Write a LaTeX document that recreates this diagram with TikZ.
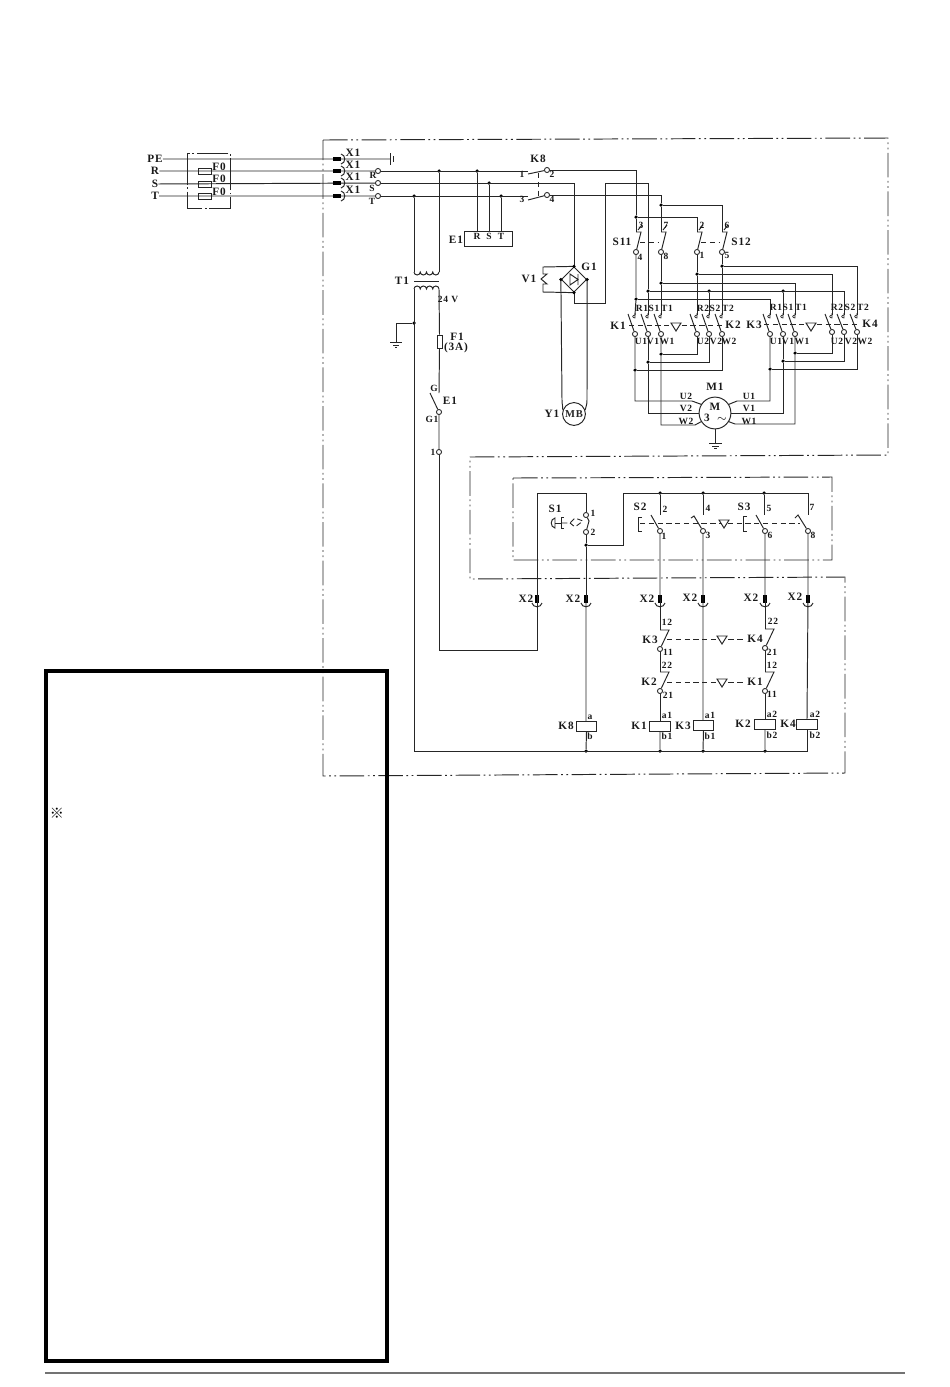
\documentclass[tikz,border=0pt]{standalone}
\usepackage{fontspec}
\setmainfont{Liberation Serif}[LetterSpace=8]
\newfontfamily\cjk{Noto Sans CJK SC}
\usetikzlibrary{positioning,shapes.geometric}
\tikzset{
wire/.style={line width=0.55pt,black!85},
frame/.style={line width=0.55pt,black!85,dash pattern=on 14pt off 2pt on 1pt off 2pt on 1pt off 2pt},
mech/.style={line width=0.5pt,black!85,dash pattern=on 3pt off 2pt},
big/.style={font=\bfseries\fontsize{6.4}{7}\selectfont,inner sep=0pt,black!90},
sml/.style={font=\bfseries\fontsize{5.4}{6}\selectfont,inner sep=0pt,black!90},
term/.style={circle,draw,line width=0.5pt,black!85,fill=white,inner sep=0pt,minimum size=2.9pt},
junc/.style={circle,fill,black,inner sep=0pt,minimum size=2pt},
box/.style={rectangle,draw,line width=0.5pt,black!85,inner sep=0pt},
coil/.style={box,fill=white,minimum width=11.6pt,minimum height=5.7pt},
fuse/.style={box,minimum width=7.4pt,minimum height=3.4pt}
}
\begin{document}
\begin{tikzpicture}[x=0.02cm,y=-0.02cm]
\useasboundingbox (0,0) rectangle (950,1387);
\draw[frame] (323,140) -- (888,138) -- (888,455) -- (470,457) -- (470,579) -- (845,577) -- (845,773) -- (323,776) -- cycle;
\draw[frame] (513,478) -- (832,477) -- (832,560) -- (513,560) -- cycle;
\draw[frame,dash pattern=on 18pt off 1.5pt on 1pt off 1.5pt] (187,153) rectangle (230,208);
\draw[line width=2pt] (46,671) rectangle (387,1361);
\draw[line width=1pt,black!55] (45,1373) -- (905,1373);
\node[font=\fontsize{8}{9}\selectfont,inner sep=0pt] (note) at (57,813) {\cjk ※};
% supply
\node[big] (lPE) at (155,159) {PE};
\node[big] (lR) at (155,171) {R};
\node[big] (lS) at (155,184) {S};
\node[big] (lT) at (155,196) {T};
\node[term] (tR) at (378,171) {};
\node[term] (tS) at (378,183) {};
\node[term] (tT) at (378,196) {};
\coordinate (gPE) at (390,159);
\draw[wire] (lPE) -- (gPE) (lR) -- (tR) (lS) -- (tS) (lT) -- (tT);
\draw[wire] (390,153) -- (390,165) (393,156) -- (393,162);
\foreach \n/\y in {fa/171,fb/184,fc/196}
  \node[fuse] (\n) at (205,\y) {};
\foreach \y in {159,171,183,196}{
  \draw[line width=2.4pt] (333,\y) -- (341,\y);
  \draw[wire] (341,{\y-5}) .. controls (346,{\y-4}) and (346,{\y+4}) .. (341,{\y+5});
}
\node[junc] (jRa) at (439,171) {};
\node[junc] (jRb) at (477,171) {};
\node[junc] (jSb) at (489,183) {};
\node[junc] (jTa) at (414,196) {};
\node[junc] (jTb) at (501,196) {};
\node[box,minimum width=27.8pt,minimum height=9pt] (e1) at (488.5,239) {};
\coordinate (kl1) at (528,171);
\coordinate (kl2) at (528,196);
\node[term] (k8a) at (547,170) {};
\node[term] (k8b) at (547,195) {};
\draw[wire] (tR) -- (kl1) (tT) -- (kl2);
\draw[wire] (528,174) -- (k8a) (528,200) -- (k8b);
\draw[mech] (538,173) -- (538,197);
\draw[wire] (jRb) -- (jRb |- e1.north) (jSb) -- (jSb |- e1.north) (jTb) -- (jTb |- e1.north);
% transformer
\coordinate (pa) at (414,272);
\coordinate (pb) at (439,272);
\coordinate (sa) at (414,289);
\coordinate (sb) at (439,289);
\draw[wire] (jTa) -- (pa) (jRa) -- (pb);
\draw[wire] (pa) \foreach \i in {1,...,4} {arc (180:360:3.125 and -3)};
\draw[wire] (sa) \foreach \i in {1,...,4} {arc (180:360:3.125 and 3)};
\draw[wire] (414,281) -- (439,281);
\node[junc] (jE) at (414,323) {};
\node[fuse,minimum width=2.9pt,minimum height=7.4pt] (f1) at (439.5,341.5) {};
\node[term] (tG) at (439,412) {};
\node[term] (t1) at (439,452) {};
\coordinate (gE) at (396,342);
\draw[wire] (sb) -- (f1.north) (f1.south) -- (439,393);
\draw[wire] (430,393) -- (tG) -- (t1);
\draw[wire] (jE) -| (gE);
\draw[wire] (390,342) -- (402,342) (393,345) -- (399,345) (395,347) -- (397,347);
% bridge and brake
\node[diamond,draw,wire,inner sep=0pt,minimum size=14.4pt] (br) at (574,279.5) {};
\node[circle,draw,wire,inner sep=0pt,minimum size=13pt,font=\bfseries\fontsize{6}{7}\selectfont] (mb) at (574,414) {MB};
\coordinate (cG) at (605,303);
\coordinate (cH) at (605,183);
\coordinate (va) at (543,267);
\coordinate (vb) at (543,292);
\draw[wire] (tS) -| (br.north);
\draw[wire] (br.south) |- (cG) -- (cH) -- (648,183);
\draw[wire] (br.north) -- (va) -- (543,274) -- (547,274) -- (541,279) -- (547,284) -- (543,284) -- (vb) -- (br.south);
\draw[wire] (br.west) -- (562,400) .. controls (562,405) and (563,406) .. (mb.160);
\draw[wire] (br.east) -- (587,400) .. controls (587,405) and (586,406) .. (mb.20);
\draw[wire] (570,274) -- (570,285) -- (578,279.5) -- cycle (578,274) -- (578,285);
\node[junc] (bn) at (br.north) {};
\node[junc] (bs) at (br.south) {};
\node[junc] (bw) at (br.west) {};
\node[junc] (be) at (br.east) {};
% position switches
\node[junc] (jA) at (636,217) {};
\node[junc] (jB) at (661,205) {};
\coordinate (ha) at (636,232);
\coordinate (hb) at (661,232);
\coordinate (hc) at (697,232);
\coordinate (hd) at (722,232);
\foreach \n/\x in {sa/636,sb/661,sc/697,sd/722}{
  \node[term] (t\n) at (\x,252) {};
  \draw[wire] (\x,232) -- ({\x+5},232) -- (t\n);
  \draw[wire] ({\x+2},230) -- ({\x+6},225);
}
\draw[wire] (k8a) -| (jA) -- (ha);
\draw[wire] (k8b) -| (jB) -- (hb);
\draw[wire] (jA) -| (hc);
\draw[wire] (jB) -| (hd);
\draw[mech] (640,242) -- (659,242) (701,242) -- (720,242);
% contactors
\foreach \n/\x/\y in {a/635/334,b/648/334,c/661/334,d/697/334,e/709/334,f/722/334,g/770/334,h/783/334,i/795/334,j/832/332,k/844/332,l/857/332}{
  \node[term] (c\n) at (\x,\y) {};
  \draw[wire] ({\x-7},314) -- (c\n);
  \coordinate (u\n) at (\x,315);
  \draw[line width=0.4pt,black!85] (\x,313) -- (\x,318) .. controls ({\x-3},318) and ({\x-3},315) .. (\x,315);
}
\node[junc] (ja) at (636,299) {};
\node[junc] (jb) at (648,291) {};
\node[junc] (jc) at (661,283) {};
\node[junc] (jd) at (697,274) {};
\node[junc] (je) at (709,291) {};
\node[junc] (jf) at (722,266) {};
\node[junc] (jh) at (783,291) {};
\draw[wire] (tsa) -- (ja) -- (ua);
\draw[wire] (cH) -- (648,183) -- (jb) -- (ub);
\draw[wire] (tsb) -- (jc) -- (uc);
\draw[wire] (tsc) -- (jd) -- (ud);
\draw[wire] (tsd) -- (jf) -- (uf);
\draw[wire] (ja) -| (ug);
\draw[wire] (jb) -| (uk);
\draw[wire] (jc) -| (ui);
\draw[wire] (jd) -| (uj);
\draw[wire] (jf) -| (ul);
\draw[wire] (je) -- (ue) (jh) -- (uh);
\draw[mech] (629,325) -- (725,325) (764,324) -- (857,324);
% motor
\node[circle,draw,wire,inner sep=0pt,minimum size=18.1pt] (m1) at (715,413) {};
\node[junc] (ka) at (635,370) {};
\node[junc] (kb) at (648,362) {};
\node[junc] (kc) at (661,354) {};
\node[junc] (kg) at (770,369) {};
\node[junc] (kh) at (783,361) {};
\node[junc] (ki) at (795,353) {};
\coordinate (mu) at (692,401);
\coordinate (mw) at (695,425);
\coordinate (mx) at (737,401);
\coordinate (mz) at (735,424);
\coordinate (gm) at (715,443);
\draw[wire] (ca) -- (ka) |- (mu) -- (m1.148);
\draw[wire] (cb) -- (kb) |- (m1.west);
\draw[wire] (cc) -- (kc) |- (mw) -- (m1.212);
\draw[wire] (cg) -- (kg) |- (mx) -- (m1.32);
\draw[wire] (ch) -- (kh) |- (m1.east);
\draw[wire] (ci) -- (ki) |- (mz) -- (m1.-32);
\draw[wire] (ka) -| (cf);
\draw[wire] (kb) -| (ce);
\draw[wire] (kc) -| (cd);
\draw[wire] (kg) -| (cl);
\draw[wire] (kh) -| (ck);
\draw[wire] (ki) -| (cj);
\draw[wire] (m1.south) -- (gm);
\draw[wire] (709,443) -- (722,443) (712,446) -- (719,446) (714,448) -- (717,448);
% control station
\foreach \n/\x in {xa/537,xb/586,xc/660,xd/703,xe/765,xf/808}{
  \coordinate (\n) at (\x,600);
  \draw[line width=2pt] (\x,595) -- (\x,603);
  \draw[wire] ({\x-5},603) .. controls ({\x-4},608) and ({\x+4},608) .. ({\x+5},603);
}
\node[term] (ts1) at (586,515) {};
\node[term] (ts2) at (586,532) {};
\node[junc] (jS) at (586,545) {};
\coordinate (cT) at (586,493);
\coordinate (cU) at (623,493);
\coordinate (cF) at (439,650);
\draw[wire] (xa) |- (cT) -- (ts1);
\draw[wire] (xa) |- (cF) -- (t1);
\draw[wire] (ts1) -- (589,521) -- (ts2);
\draw[wire] (ts2) -- (jS) -- (xb);
\draw[wire] (jS) -| (cU);
\node[junc] (ja2) at (660,493) {};
\node[junc] (jb2) at (703,493) {};
\node[junc] (jc2) at (764,493) {};
\coordinate (cV) at (808,493);
\draw[wire] (cU) -- (cV) -- (808,515);
\draw[wire] (ja2) -- (660,515) (jb2) -- (703,515) (jc2) -- (764,515);
\foreach \n/\x in {pa/660,pb/703,pc/765,pd/808}
  \node[term] (\n) at (\x,531) {};
\draw[wire] (651,515) -- (pa) -- (xc);
\draw[wire] (691,518) -- (694,516) -- (pb) -- (xd);
\draw[wire] (756,515) -- (pc) -- (xe);
\draw[wire] (795,518) -- (798,515) -- (pd) -- (xf);
\draw[wire] (642,517) -- (638,517) -- (638,531) -- (642,531);
\draw[wire] (747,516) -- (743,516) -- (743,531) -- (747,531);
\draw[mech] (640,523) -- (800,523);
\draw[wire] (555,518) .. controls (550,519) and (550,527) .. (555,528) -- cycle;
\draw[wire] (555,523) -- (561,523) (564,517) -- (561,517) -- (561,528) -- (564,528);
\draw[mech] (562,523) -- (570,523) -- (575,518) -- (583,521) -- (575,527) -- (570,523);
% interlocks
\foreach \n/\x/\y in {ia/660/649,ib/660/691,ic/765/648,id/765/691}{
  \node[term] (\n) at (\x,\y) {};
  \draw[wire] (\x,{\y-19}) -- ({\x+9},{\y-19}) -- (\n);
}
\draw[wire] (xc) -- (660,630) (ia) -- (660,672) (ib) -- (660,721);
\draw[wire] (xe) -- (765,629) (ic) -- (765,672) (id) -- (765,719);
\draw[wire] (xd) -- (703,721) (xb) -- (586,721) (xf) -- (807,719);
\draw[mech] (667,639) -- (746,639) (667,682) -- (746,682);
\node[coil] (k8) at (586.5,726) {};
\node[coil] (k1) at (660,726) {};
\node[coil] (k3) at (703.5,725) {};
\node[coil] (k2) at (765,724) {};
\node[coil] (k4) at (807,724) {};
\node[junc] (ba) at (586,751) {};
\node[junc] (bb) at (660,751) {};
\node[junc] (bc) at (703,751) {};
\node[junc] (bd) at (765,751) {};
\coordinate (bf) at (807,751);
\draw[wire] (sa) -- (414,751) -- (bf) -- (k4.south);
\draw[wire] (k8.south) -- (ba) (k1.south) -- (bb) (k3.south) -- (bc) (k2.south) -- (bd);
\foreach \x/\y in {676/327,811/327,724/524,722/640,722/683}
  \draw[wire,fill=white] ({\x-5},{\y-4}) -- ({\x+5},{\y-4}) -- (\x,{\y+4}) -- cycle;
% labels
\foreach \x/\y/\t [count=\i] in {219/167/F0,219/179/F0,219/192/F0,353/153/X1,353/165/X1,353/177/X1,353/190/X1,456/240/E1,402/281/T1,457/337/F1,456/348/(3A),450/401/E1,538/159/K8,529/279/V1,589/267/G1,552/414/Y1,622/242/S11,741/242/S12,618/326/K1,733/325/K2,754/325/K3,870/324/K4,715/387/M1,715/407/M,707/418/3,722/419/$\sim$,555/509/S1,640/507/S2,744/507/S3,526/599/X2,573/599/X2,647/599/X2,690/598/X2,751/598/X2,795/597/X2,650/640/K3,649/682/K2,755/639/K4,755/682/K1,566/726/K8,639/726/K1,683/726/K3,743/724/K2,788/724/K4}
  \node[big] (big\i) at (\x,\y) {\t};
\foreach \x/\y/\t [count=\i] in {373/175/R,372/188/S,372/201/T,477/236/R,489/236/S,501/236/T,448/299/24 V,434/388/G,432/419/G1,433/452/1,522/174/1,552/174/2,522/199/3,552/199/4,641/225/3,666/225/7,702/225/2,727/225/6,640/257/4,666/256/8,702/255/1,727/255/5,642/308/R1,654/308/S1,667/308/T1,703/308/R2,715/308/S2,728/308/T2,776/307/R1,788/307/S1,801/307/T1,837/307/R2,850/307/S2,863/307/T2,641/341/U1,653/341/V1,667/341/W1,703/341/U2,716/341/V2,729/341/W2,776/341/U1,788/341/V1,802/341/W1,837/341/U2,851/341/V2,865/341/W2,686/396/U2,686/408/V2,686/421/W2,749/396/U1,749/408/V1,749/421/W1,593/513/1,593/532/2,665/509/2,708/508/4,769/508/5,812/507/7,664/536/1,708/535/3,770/535/6,813/535/8,667/622/12,668/652/11,667/665/22,668/695/21,773/621/22,772/652/21,772/665/12,772/694/11,590/717/a,590/736/b,667/715/a1,667/736/b1,710/715/a1,710/736/b1,772/714/a2,772/735/b2,815/714/a2,815/735/b2}
  \node[sml] (sml\i) at (\x,\y) {\t};
\end{tikzpicture}
\end{document}
